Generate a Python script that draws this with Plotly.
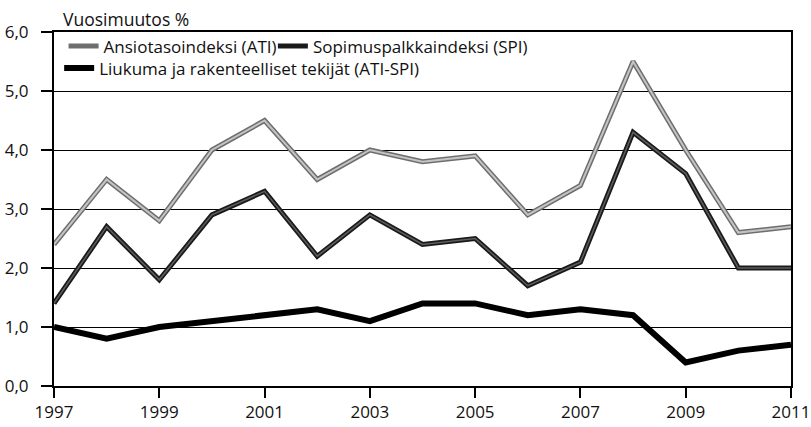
import plotly.graph_objects as go

years = list(range(1997, 2012))
ati = [2.4, 3.5, 2.8, 4.0, 4.5, 3.5, 4.0, 3.8, 3.9, 2.9, 3.4, 5.5, 4.0, 2.6, 2.7]
spi = [1.4, 2.7, 1.8, 2.9, 3.3, 2.2, 2.9, 2.4, 2.5, 1.7, 2.1, 4.3, 3.6, 2.0, 2.0]
liukuma = [1.0, 0.8, 1.0, 1.1, 1.2, 1.3, 1.1, 1.4, 1.4, 1.2, 1.3, 1.2, 0.4, 0.6, 0.7]
names = ["Ansiotasoindeksi (ATI)", "Sopimuspalkkaindeksi (SPI)",
         "Liukuma ja rakenteelliset tekijät (ATI-SPI)"]
y_ticks = [0, 1, 2, 3, 4, 5, 6]
x_ticks = [1997, 1999, 2001, 2003, 2005, 2007, 2009, 2011]

FONT = "Open Sans, Roboto, sans-serif"
FS = 17
fig = go.Figure()

# ATI: dark outline with light grey core
fig.add_trace(go.Scatter(x=years, y=ati, mode="lines", name=names[0],
                         line=dict(color="#6e6e6e", width=5), legend="legend",
                         legendgroup="ati"))
fig.add_trace(go.Scatter(x=years, y=ati, mode="lines", showlegend=False,
                         line=dict(color="#c4c4c4", width=2), legendgroup="ati",
                         hoverinfo="skip"))
# SPI: black with grey core
fig.add_trace(go.Scatter(x=years, y=spi, mode="lines", name=names[1],
                         line=dict(color="#1a1a1a", width=5), legend="legend3",
                         legendgroup="spi"))
fig.add_trace(go.Scatter(x=years, y=spi, mode="lines", showlegend=False,
                         line=dict(color="#5e5e5e", width=1.5), legendgroup="spi",
                         hoverinfo="skip"))
# Liukuma: solid black
fig.add_trace(go.Scatter(x=years, y=liukuma, mode="lines", name=names[2],
                         line=dict(color="#000000", width=6), legend="legend2"))

leg_common = dict(orientation="h", xanchor="left", yanchor="top",
                  bgcolor="rgba(0,0,0,0)", font=dict(size=FS, family=FONT),
                  itemwidth=30)
fig.update_layout(
    width=811, height=427,
    margin=dict(l=54, r=20, t=32, b=41),
    paper_bgcolor="white", plot_bgcolor="white",
    separators=", ",
    font=dict(family=FONT, size=FS, color="#111"),
    showlegend=True,
    legend=dict(x=0.013, y=1.010, **leg_common),
    legend3=dict(x=0.297, y=1.010, **leg_common),
    legend2=dict(x=0.007, y=0.948, **leg_common),
    annotations=[dict(text="Vuosimuutos %", xref="paper", yref="paper",
                      x=0.0, y=1.0, xshift=7, yshift=13, xanchor="left",
                      yanchor="middle", showarrow=False,
                      font=dict(size=FS + 0.5, family=FONT, color="#111"))],
)
fig.update_xaxes(range=[1997, 2011], tickvals=x_ticks, ticks="outside", ticklen=10,
                 tickcolor="black", tickwidth=1.5, showline=True, linecolor="black",
                 linewidth=2, mirror=True, showgrid=False, zeroline=False,
                 automargin=False, ticklabelstandoff=0,
                 tickfont=dict(size=FS, family=FONT, color="#111"))
fig.update_yaxes(range=[0, 6], tickvals=y_ticks, tickformat=".1f", ticks="outside",
                 ticklen=11, tickcolor="black", tickwidth=1.5, showline=True,
                 linecolor="black", linewidth=2, mirror=True, showgrid=True,
                 gridcolor="black", gridwidth=1.3, zeroline=False,
                 ticklabelstandoff=9, automargin=False,
                 tickfont=dict(size=FS, family=FONT, color="#111"))

fig.write_html("out.html", config={"displayModeBar": False},
               post_script="document.body.style.margin='0';")
